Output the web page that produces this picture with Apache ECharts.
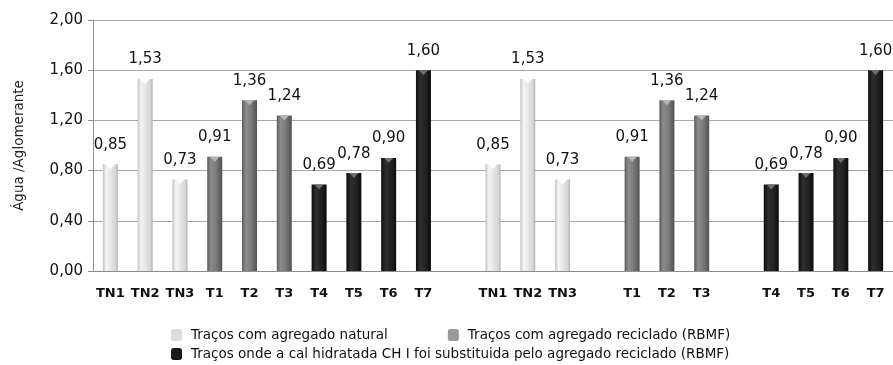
<!DOCTYPE html>
<html>
<head>
<meta charset="utf-8">
<script src="https://cdn.jsdelivr.net/npm/echarts@6/dist/echarts.min.js"></script>
<style>
  html, body { margin: 0; padding: 0; background: #fff; }
  #chart { width: 893px; height: 365px; }
</style>
</head>
<body>
<div id="chart"></div>
<script>
// Water / binder ratio of each mix
const naturalLabels = ['TN1', 'TN2', 'TN3'];
const naturalValues = [0.85, 1.53, 0.73];
const recycledLabels = ['T1', 'T2', 'T3'];
const recycledValues = [0.91, 1.36, 1.24];
const substitutedLabels = ['T4', 'T5', 'T6', 'T7'];
const substitutedValues = [0.69, 0.78, 0.90, 1.60];
const yTicks = ['0,00', '0,40', '0,80', '1,20', '1,60', '2,00'];

const seriesNames = [
  'Traços com agregado natural',
  'Traços com agregado reciclado (RBMF)',
  'Traços onde a cal hidratada CH I foi substituida pelo agregado reciclado (RBMF)'
];

// Category layout: all mixes together, then each group on its own
const groups = [
  { labels: naturalLabels, values: naturalValues, g: 0 },
  { labels: recycledLabels, values: recycledValues, g: 1 },
  { labels: substitutedLabels, values: substitutedValues, g: 2 }
];
const capColors = ['#ffffff', '#b4b4b4', '#6e6e6e'];
const categories = [];
const perGroup = [[], [], []];
const capData = [];
function pushCat(label, value, g) {
  categories.push(label);
  for (let k = 0; k < 3; k++) perGroup[k].push(k === g ? value : '-');
  capData.push(g === null ? '-' : { value: value, itemStyle: { color: capColors[g] } });
}
groups.forEach(gr => gr.labels.forEach((l, i) => pushCat(l, gr.values[i], gr.g)));
groups.forEach(gr => {
  pushCat('', null, null);
  gr.labels.forEach((l, i) => pushCat(l, gr.values[i], gr.g));
});

function grad(stops) {
  return new echarts.graphic.LinearGradient(0, 0, 1, 0,
    stops.map(s => ({ offset: s[0], color: s[1] })));
}
const fills = [
  grad([[0, '#c2c2c2'], [0.22, '#f5f5f5'], [0.55, '#e4e4e4'], [0.85, '#d6d6d6'], [1, '#b0b0b0']]),
  grad([[0, '#5a5a5a'], [0.25, '#8c8c8c'], [0.6, '#7a7a7a'], [1, '#525252']]),
  grad([[0, '#0e0e0e'], [0.3, '#2e2e2e'], [0.7, '#202020'], [1, '#0a0a0a']])
];
const legendColors = ['#dcdcdc', '#9a9a9a', '#1a1a1a'];

const fmt = v => Number(v).toFixed(2).replace('.', ',');
const font = 'DejaVu Sans';

const barSeries = perGroup.map((data, k) => ({
  name: seriesNames[k],
  type: 'bar',
  stack: 'all',
  barWidth: 15,
  data: data,
  itemStyle: { color: fills[k] },
  label: {
    show: true,
    position: 'top',
    distance: 12,
    formatter: p => fmt(p.value),
    fontFamily: font,
    fontSize: 15,
    color: '#111'
  }
}));

const option = {
  animation: false,
  backgroundColor: '#ffffff',
  grid: { left: 93, right: 0, top: 20, bottom: 94 },
  legend: [
    {
      data: seriesNames.slice(0, 2).map((n, i) => ({ name: n, itemStyle: { color: legendColors[i] } })),
      left: 166, top: 323,
      icon: 'roundRect', itemWidth: 11, itemHeight: 12, itemGap: 60,
      textStyle: { fontFamily: font, fontSize: 13.5, color: '#111', padding: [0, 0, 0, 4] }
    },
    {
      data: [{ name: seriesNames[2], itemStyle: { color: legendColors[2] } }],
      left: 166, top: 342,
      icon: 'roundRect', itemWidth: 11, itemHeight: 12,
      textStyle: { fontFamily: font, fontSize: 13.5, color: '#111', padding: [0, 0, 0, 4] }
    }
  ],
  xAxis: {
    type: 'category',
    data: categories,
    axisLine: { lineStyle: { color: '#8c8c8c' } },
    axisTick: { show: false },
    axisLabel: {
      interval: 0, margin: 16,
      fontFamily: font, fontSize: 13, fontWeight: 'bold', color: '#111'
    }
  },
  yAxis: {
    type: 'value',
    min: 0, max: 2, interval: 0.4,
    name: 'Água /Aglomerante',
    nameLocation: 'middle',
    nameGap: 67,
    nameTextStyle: { fontFamily: font, fontSize: 13.5, color: '#222' },
    axisLine: { show: true, lineStyle: { color: '#8c8c8c' } },
    axisTick: { show: true, length: 5, lineStyle: { color: '#8c8c8c' } },
    splitLine: { lineStyle: { color: '#a8a8a8' } },
    axisLabel: {
      margin: 10,
      formatter: v => yTicks[Math.round(v / 0.4)],
      fontFamily: font, fontSize: 15, color: '#111'
    }
  },
  series: barSeries.concat([{
    type: 'pictorialBar',
    name: 'cap',
    symbol: 'path://M0,0L10,0L5,6Z',
    symbolSize: [9, 5],
    symbolPosition: 'end',
    symbolOffset: [0, 0],
    z: 5,
    silent: true,
    data: capData
  }])
};

echarts.init(document.getElementById('chart')).setOption(option);
</script>
</body>
</html>
